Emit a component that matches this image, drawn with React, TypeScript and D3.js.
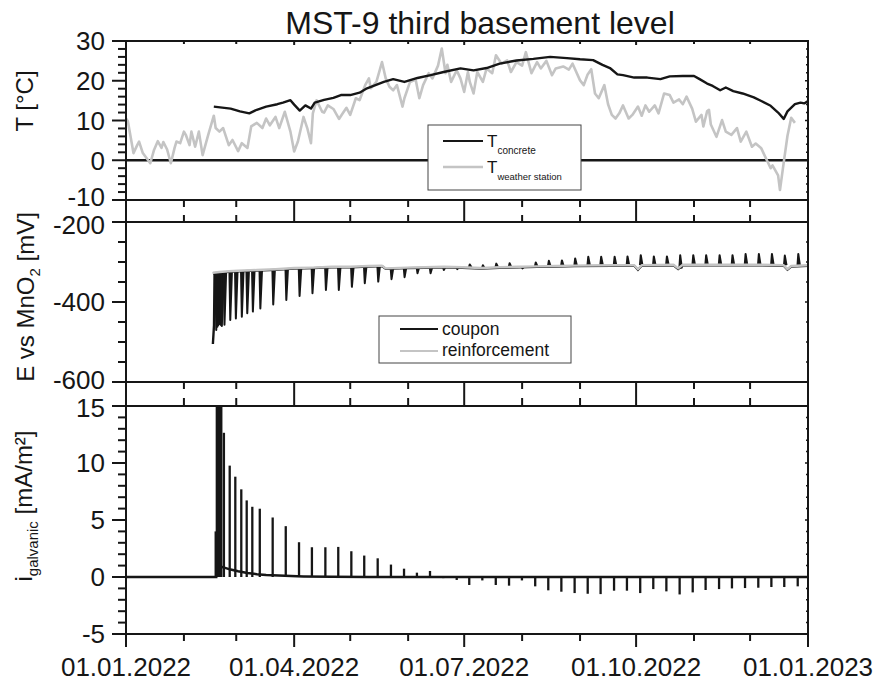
import React from "react";
import * as d3 from "d3";

// ---------- data (days since 01.01.2022) ----------
const tempWsDays = [0,1,4,6,7,9,13,15,17,19,20,22,24,26,27,29,31,32,34,35,37,39,41,44,47,48,50,52,55,57,60,62,65,67,70,73,75,77,80,82,85,88,90,92,95,97,99,100,102,105,106,108,111,114,116,118,120,123,125,128,130,131,134,137,139,141,143,145,148,149,152,155,157,159,162,164,167,169,171,172,174,177,179,181,183,184,186,188,191,193,196,198,201,204,206,209,212,214,217,220,222,225,228,230,234,237,239,243,245,247,249,251,253,256,258,260,262,264,266,269,271,274,276,278,280,283,285,288,291,293,296,298,300,303,305,308,309,311,312,313,316,319,321,324,327,329,332,335,337,340,343,345,346,349,350,352,354,356,358];
const tempWsVals = [10.5,9.8,1.8,3.8,4.7,1.8,-0.75,2.6,4.8,3.1,4.6,2.7,-0.75,3.1,4.7,4.3,7.2,6.4,3.8,7.2,3.4,7.2,1.3,6.4,11.2,8.1,7.2,8.1,3.8,5.1,2.3,4.3,3.1,8.5,9.4,8.1,10.5,8.8,10.9,8.1,12.2,7.2,2.2,4.7,10.9,8.1,4.3,11.8,15.1,12.2,12.0,13.8,12.9,10.4,11.8,13.2,11.4,15.6,15.1,18.9,20.6,18.1,19.7,24.7,20.6,18.5,17.6,18.9,13.5,15.6,19.7,20.3,15.6,18.9,21.9,20.6,23.8,28.1,21.9,24,19.7,22.6,20.6,17.2,22.2,19.7,16.8,22.2,19.7,23.1,21.9,26.4,24.3,25.1,22.2,24.7,23.8,27.2,21.9,24.7,23.1,25,21.4,23.1,23.6,22.8,24.3,20.1,18.9,21.5,22.9,16.8,15.6,18.9,14.1,11.4,10.5,11.8,13.8,10.5,11.4,13.5,11.2,13.8,12.2,13.8,11.8,16.8,16.4,14.5,15.3,14.1,16.0,13.0,9.7,11.4,8.5,12.3,12.7,9.0,5.9,10.1,7.2,6.4,8.1,4.7,7.2,3.4,4.2,3.0,0,-2.0,-1.3,-3.8,-7.5,-0.6,6.1,10.7,9.4];

const tempConcDays = [47,56,61,66,70,75,81,84,88,90,93,96,99,101,106,111,115,120,125,129,138,143,149,156,163,170,179,186,193,200,209,218,227,236,243,250,255,259,263,266,272,279,286,291,298,304,307,311,314,318,321,325,330,336,340,345,349,352,354,358,361,363,365];
const tempConcVals = [13.5,13.0,12.3,11.8,12.7,13.5,14.1,14.5,15.1,14.0,12.5,13.8,13.0,14.5,15.2,15.7,16.4,16.4,17,18.1,19.7,20.4,19.7,20.7,21.4,22.2,23.1,22.6,23.2,24.3,25.1,25.5,26,25.7,25.4,25.2,24,23.2,21.6,21.4,20.8,20.8,20.4,21.1,21.2,21.2,20.4,19.3,18.7,17.6,18.3,17.4,16.8,15.8,14.9,13.7,12.0,10.4,12.3,14.1,14.5,14.3,14.9];

const reinfDays = [46.5,50,55,60,70,80,90,100,110,120,130,137,139,150,160,170,180,190,200,210,220,230,240,260,272,274,276,293,295.5,298,320,340,352,354,356,365];
const reinfVals = [-327,-325,-323,-322,-320,-318,-315,-314,-312,-312,-310,-309,-316,-314,-313,-312,-313,-315,-313,-312,-311,-310,-309,-308,-308,-318,-308,-307,-316,-307,-307,-307,-308,-318,-310,-308];

const couponStartDays = [46.5, 46.8, 47.1];
const couponStartVals = [-505, -482, -458];

const spikeDays = [48.0,48.6,49.1,49.6,50.1,50.6,51.0,52.4,55.5,58.5,61.7,64.6,67.6,71.6,78.5,85.5,92.6,99.5,106.7,113.6,120.6,127.5,134.7,141.8,148.8,155.7,162.7,169.8,177.0,183.7,190.7,197.9,205.0,211.9,219.0,226.0,233.0,240.1,247.1,254.0,261.2,268.1,275.2,282.2,289.2,296.3,303.3,310.2,317.4,324.3,331.3,338.4,345.4,352.3,359.5];
const spikeCurrent = [4.0,16,16,16,16,16,16,12.65,9.77,8.8,7.69,6.72,6.16,5.99,5.22,4.46,3.05,2.61,2.61,2.64,2.26,1.88,1.64,1.09,0.73,0.38,0.53,-0.1,-0.26,-0.7,-0.3,-0.7,-0.76,-0.3,-0.82,-1.17,-1.29,-1.41,-1.47,-1.5,-1.2,-1.2,-1.41,-1.06,-1.26,-1.53,-1.35,-1.14,-1.06,-1.0,-0.97,-0.94,-0.88,-0.88,-0.82];
const spikeCoupon = [-470,-462,-458,-455,-455,-458,-460,-457,-445,-441,-437,-428,-424,-416,-406,-395,-385,-378,-370,-370,-362,-353,-349,-343,-338,-328,-328,-320,-318,-306,-308,-304,-303,-316,-301,-297,-296,-291,-287,-287,-287,-286,-283,-286,-286,-283,-283,-283,-283,-283,-280,-280,-280,-284,-280];

const curBaseDays = [0,48.3,48.6,51,53,56,60,65,70,75,85,95,110,130,365];
const curBaseVals = [0,0,0.9,0.9,0.8,0.65,0.5,0.35,0.25,0.18,0.1,0.05,0.02,0,0];

const tTicks = [-10, 0, 10, 20, 30];
const eTicks = [-600, -400, -200];
const iTicks = [-5, 0, 5, 10, 15];
const xTickLabels = ["01.01.2022", "01.04.2022", "01.07.2022", "01.10.2022", "01.01.2023"];
const title = "MST-9 third basement level";

// ---------- drawing ----------
const FONT = "Arial, 'Liberation Sans', Helvetica, sans-serif";
const T0 = Date.UTC(2022, 0, 1);
const T1 = Date.UTC(2023, 0, 1);
const DAY = 864e5;
const INK = "#161616";
const GRAY = "#c4c4c4";

type P = [number, number];
const zip = (a: number[], b: number[]): P[] => a.map((d, i) => [d, b[i]] as P);

export default function App() {
  const L = 126, R = 808;
  const x = d3.scaleUtc().domain([new Date(T0), new Date(T1)]).range([L, R]);
  const xd = (d: number) => x(new Date(T0 + d * DAY));
  const yT = d3.scaleLinear().domain([-10, 30]).range([200, 41]);
  const yE = d3.scaleLinear().domain([-600, -200]).range([382, 222]);
  const yI = d3.scaleLinear().domain([-5, 15]).range([634, 406]);

  const lT = d3.line<P>().x(p => xd(p[0])).y(p => yT(p[1]));
  const lE = d3.line<P>().x(p => xd(p[0])).y(p => yE(p[1]));
  const lI = d3.line<P>().x(p => xd(p[0])).y(p => yI(p[1]));

  const restAt = (d: number) => {
    let bi = 0;
    reinfDays.forEach((rd, i) => { if (Math.abs(rd - d) < Math.abs(reinfDays[bi] - d)) bi = i; });
    return reinfVals[bi];
  };

  const months = d3.utcMonths(new Date(T0), new Date(T1 + DAY));
  const isMajor = (m: Date) => m.getUTCMonth() % 3 === 0;

  const xTickMarks = (yEdge: number, dir: number, majorLen: number, minorLen: number, key: string) =>
    months.map((m, i) => {
      const len = isMajor(m) ? majorLen : minorLen;
      if (len <= 0) return null;
      const xx = x(m);
      return <line key={key + i} x1={xx} x2={xx} y1={yEdge} y2={yEdge + dir * len} stroke={INK} strokeWidth={2} />;
    });

  // small vertical nudges so stacked labels at panel joins do not collide
  const labelNudge = (key: string, v: number) => {
    if (key === "T" && v === -10) return -3;
    if (key === "E" && v === -200) return 3;
    if (key === "E" && v === -600) return -2;
    if (key === "I" && v === 15) return 2;
    return 0;
  };

  const yTickMarks = (scale: d3.ScaleLinear<number, number>, major: number[], minorStep: number, key: string) => {
    const [lo, hi] = scale.domain();
    const minor = d3.range(lo, hi + minorStep / 2, minorStep).filter(v => !major.some(m => Math.abs(m - v) < 1e-9));
    const out: React.ReactNode[] = [];
    major.forEach((v, i) => {
      out.push(<line key={key + "M" + i} x1={L - 14} x2={L} y1={scale(v)} y2={scale(v)} stroke={INK} strokeWidth={2} />);
      out.push(<line key={key + "MR" + i} x1={R - 3} x2={R} y1={scale(v)} y2={scale(v)} stroke={INK} strokeWidth={1.5} />);
      out.push(
        <text key={key + "t" + i} x={105} y={scale(v) + labelNudge(key, v)} dy="0.36em" textAnchor="end" fontSize={26} fill={INK}>
          {String(v)}
        </text>
      );
    });
    minor.forEach((v, i) => {
      out.push(<line key={key + "m" + i} x1={L - 8} x2={L} y1={scale(v)} y2={scale(v)} stroke={INK} strokeWidth={2} />);
      out.push(<line key={key + "mR" + i} x1={R - 2} x2={R} y1={scale(v)} y2={scale(v)} stroke={INK} strokeWidth={1.5} />);
    });
    return out;
  };

  const spikePath = (d: number, rest: number, ext: number) =>
    lE([[d - 0.15, rest], [d + 0.3, ext], [d + 1.2, rest]]);

  return (
    <svg width={875} height={681} style={{ position: "absolute", left: 0, top: 0, background: "#fff" }} fontFamily={FONT}>
      <defs>
        <clipPath id="c1"><rect x={L} y={41} width={R - L} height={159} /></clipPath>
        <clipPath id="c2"><rect x={L} y={222} width={R - L} height={160} /></clipPath>
        <clipPath id="c3"><rect x={L} y={406} width={R - L} height={228} /></clipPath>
      </defs>
      <rect x={0} y={0} width={875} height={681} fill="#fff" />

      {/* title */}
      <text x={480} y={34} textAnchor="middle" fontSize={32} fill={INK}>{title}</text>

      {/* panel 1: temperature */}
      <g clipPath="url(#c1)">
        <line x1={L} x2={R} y1={yT(0)} y2={yT(0)} stroke={INK} strokeWidth={2.5} />
        <path d={lT(zip(tempWsDays, tempWsVals)) || ""} fill="none" stroke={GRAY} strokeWidth={2.6} strokeLinejoin="round" />
        <path d={lT(zip(tempConcDays, tempConcVals)) || ""} fill="none" stroke={INK} strokeWidth={2.4} strokeLinejoin="round" />
      </g>

      {/* panel 2: potentials */}
      <g clipPath="url(#c2)">
        <path d={lE(zip(couponStartDays, couponStartVals).concat([[47.4, restAt(47.4)]])) || ""} fill="none" stroke={INK} strokeWidth={2.4} />
        <path d={lE(zip(reinfDays, reinfVals.map(v => v - 1.5))) || ""} fill="none" stroke={INK} strokeWidth={2.2} />
        {spikeDays.map((d, i) => (
          <path key={"cs" + i} d={spikePath(d, restAt(d), spikeCoupon[i]) || ""} fill={INK} stroke={INK} strokeWidth={2} strokeLinejoin="round" />
        ))}
        <path d={lE(zip(reinfDays, reinfVals)) || ""} fill="none" stroke={GRAY} strokeWidth={2.4} strokeLinejoin="round" />
      </g>

      {/* panel 3: galvanic current */}
      <g clipPath="url(#c3)">
        <path d={lI(zip(curBaseDays, curBaseVals)) || ""} fill="none" stroke={INK} strokeWidth={2.5} />
        {spikeDays.map((d, i) => (
          <path key={"is" + i} d={lI([[d, 0], [d, spikeCurrent[i]]]) || ""} fill="none" stroke={INK} strokeWidth={2.3} />
        ))}
      </g>

      {/* frames */}
      <rect x={L} y={41} width={R - L} height={159} fill="none" stroke={INK} strokeWidth={2} />
      <rect x={L} y={222} width={R - L} height={160} fill="none" stroke={INK} strokeWidth={2} />
      <rect x={L} y={406} width={R - L} height={228} fill="none" stroke={INK} strokeWidth={2} />

      {/* x ticks */}
      {xTickMarks(41, 1, 4, 3, "a")}
      {xTickMarks(200, 1, 22, 7, "b")}
      {xTickMarks(222, -1, 0, 7, "c")}
      {xTickMarks(382, 1, 24, 7, "d")}
      {xTickMarks(406, -1, 0, 8, "e")}
      {xTickMarks(634, 1, 13, 7, "f")}
      {months.filter(isMajor).map((m, i) => (
        <text key={"xl" + i} x={x(m)} y={676} textAnchor="middle" fontSize={26} fill={INK}>{xTickLabels[i]}</text>
      ))}

      {/* y ticks */}
      {yTickMarks(yT, tTicks, 2, "T")}
      {yTickMarks(yE, eTicks, 50, "E")}
      {yTickMarks(yI, iTicks, 1, "I")}

      {/* y titles */}
      <text transform="translate(33,101) rotate(-90)" textAnchor="middle" fontSize={24} fill={INK}>T [°C]</text>
      <text transform="translate(34,297) rotate(-90)" textAnchor="middle" fontSize={24} fill={INK}>
        E vs MnO<tspan fontSize={15} dy={6}>2</tspan><tspan dy={-6}> [mV]</tspan>
      </text>
      <text transform="translate(32,506) rotate(-90)" textAnchor="middle" fontSize={24} fill={INK}>
        i<tspan fontSize={15} dy={6}>galvanic</tspan><tspan dy={-6}> [mA/m²]</tspan>
      </text>

      {/* legend 1 */}
      <rect x={428} y={125} width={153} height={65} fill="#fff" stroke="#444" strokeWidth={1} />
      <line x1={443} x2={483} y1={141} y2={141} stroke={INK} strokeWidth={2} />
      <text x={487} y={147} fontSize={17} fill={INK}>T<tspan fontSize={10} dy={7}>concrete</tspan></text>
      <line x1={443} x2={483} y1={167} y2={167} stroke={GRAY} strokeWidth={2.5} />
      <text x={487} y={173} fontSize={17} fill={INK}>T<tspan fontSize={9.5} dy={7}>weather station</tspan></text>

      {/* legend 2 */}
      <rect x={379} y={316} width={192} height={47} fill="#fff" stroke="#444" strokeWidth={1} />
      <line x1={400} x2={438} y1={329} y2={329} stroke={INK} strokeWidth={2} />
      <text x={442} y={335} fontSize={17.5} fill={INK}>coupon</text>
      <line x1={400} x2={438} y1={351} y2={351} stroke={GRAY} strokeWidth={2} />
      <text x={442} y={356} fontSize={17.5} fill={INK}>reinforcement</text>
    </svg>
  );
}
